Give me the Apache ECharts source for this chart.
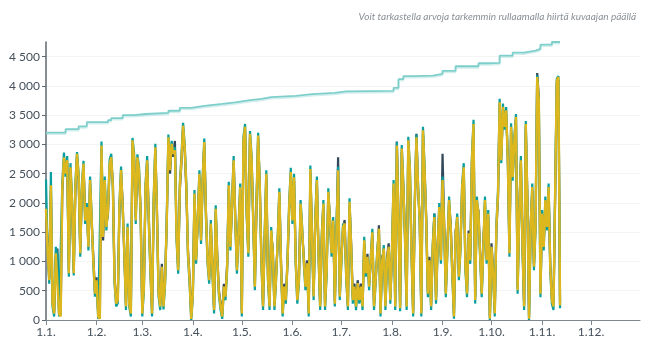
<!DOCTYPE html>
<html>
<head>
<meta charset="utf-8">
<script src="https://cdn.jsdelivr.net/npm/echarts@6/dist/echarts.min.js"></script>
<style>
html,body{margin:0;padding:0;background:#fff;}
#c{width:649px;height:347px;}
</style>
</head>
<body>
<div id="c"></div>
<script>
// Month start tick positions (day of year, 2023) and their labels
var monthStarts = [0,31,59,90,120,151,181,212,243,273,304,334];
var monthLabels = ['1.1.','1.2.','1.3.','1.4.','1.5.','1.6.','1.7.','1.8.','1.9.','1.10.','1.11.','1.12.'];
var yTicks = [0,500,1000,1500,2000,2500,3000,3500,4000,4500];
var subtitle = 'Voit tarkastella arvoja tarkemmin rullaamalla hiirtä kuvaajan päällä';

// Cumulative step series: [day of year, value]
var stepDays   = [0,12,20,25,38,40,47,54,61,75,82,89,97,108,116,124,132,138,153,163,177,184,213,216,219,226,237,243,251,265,271,278,286,293,300,303,310,315];
var stepValues = [3200,3260,3310,3380,3415,3450,3500,3520,3540,3575,3626,3660,3694,3720,3751,3780,3808,3831,3859,3882,3905,3916,3967,4115,4166,4177,4206,4257,4336,4387,4393,4518,4570,4603,4632,4705,4750,4750];

// Daily values, day 0 = 1.1.
var seriesDark = [
1850,1300,700,2200,300,140,1080,1220,130,90,
2200,2720,2560,2680,850,2560,1930,840,2200,2790,
2390,1200,2210,2620,1760,1870,1310,2330,1650,1080,
500,730,100,50,2920,1360,2330,1640,1820,2610,
2730,2330,730,330,390,1870,2500,1990,1080,280,
1530,330,160,3010,2730,1760,2730,2500,1870,160,
620,2210,2680,1760,900,160,1980,2900,1870,500,
280,960,280,730,1650,3060,2500,2960,2790,3060,
1480,900,2210,2680,3270,2900,2210,1200,730,60,
500,2100,1080,1650,2440,1420,2330,2990,1870,1080,
730,1590,900,220,1840,1080,500,280,100,620,
450,960,2240,1310,1930,2680,1760,900,1470,2210,
160,3020,3250,1870,1200,3120,2680,1760,620,1930,
3100,2330,1080,280,1360,2440,800,280,1470,1200,
280,800,1300,2140,1020,160,620,390,960,1870,
2470,1760,2380,1080,390,730,1930,1470,1080,620,
1020,160,2520,1480,450,1650,2330,1200,280,1360,
1930,280,900,2130,1760,1200,1650,330,1470,2780,
450,1080,1530,1710,800,280,1960,1310,390,620,
280,680,390,620,280,1300,860,1130,620,960,
1440,280,730,1080,1620,160,1080,1160,280,1080,
1310,390,1080,2270,280,3050,1760,250,2870,2210,
1480,280,3010,2500,1200,160,1930,3180,2210,1760,
160,3180,2500,1760,500,1080,280,1190,1820,390,
1310,1870,1080,2840,1650,500,1310,1990,1650,860,
110,1530,1700,800,1310,2210,2550,960,500,1530,
1080,2680,3300,390,1990,1870,1200,500,1310,1990,
1080,1760,60,1310,860,160,1530,2100,3680,2790,
3580,3360,3520,2790,1200,3250,2500,3020,3420,560,
1880,2680,1310,280,3300,2100,60,1650,2210,960,
1650,4220,3800,500,1760,1310,1990,1650,2210,960,
390,280,2100,4050,4100,300];

var seriesTeal = [
2400,1200,620,2530,230,60,1250,1100,60,30,
2350,2860,2450,2800,740,2680,2050,760,2330,2870,
2500,1080,2330,2720,1640,2000,1190,2450,1760,960,
400,620,20,0,3050,1480,2450,1530,1930,2740,
2840,2210,620,230,290,2000,2620,1870,1200,170,
1650,230,60,3110,2850,1640,2830,2620,1760,60,
510,2330,2800,1640,790,60,2100,3010,1760,400,
170,850,180,620,1760,3170,2620,3060,2900,2950,
1360,790,2330,2800,3370,3000,2330,1080,620,0,
400,2220,960,1760,2560,1300,2450,3100,1760,960,
620,1710,790,110,1960,960,400,170,20,510,
340,850,2360,1190,2050,2800,1640,790,1590,2330,
60,3130,3350,1760,1080,3230,2800,1640,510,2050,
3200,2210,960,170,1480,2560,680,170,1590,1080,
170,680,1420,2250,910,60,510,280,1080,2000,
2600,1640,2500,960,280,620,2050,1590,960,510,
910,60,2640,1360,340,1760,2450,1080,170,1480,
2050,170,790,2250,1640,1080,1760,230,1590,2620,
340,960,1650,1590,680,170,2080,1190,280,510,
170,570,280,510,170,1420,740,1020,510,1080,
1560,170,620,1200,1500,60,960,1280,170,960,
1190,280,1200,2390,170,3040,1640,150,2990,2330,
1360,170,3130,2620,1080,60,2050,3170,2330,1640,
60,3300,2620,1640,390,960,170,1310,1820,280,
1190,2000,960,2450,1530,390,1190,2110,1530,740,
20,1420,1820,680,1190,2330,2680,850,390,1420,
960,2800,3420,280,2110,1760,1080,390,1190,2110,
960,1880,0,1190,740,60,1650,2220,3780,2680,
3700,3250,3640,2680,1080,3360,2380,3130,3520,450,
1760,2800,1190,170,3400,1990,0,1530,2330,850,
1530,4180,3700,390,1880,1190,2110,1530,2330,850,
280,170,2220,4120,4170,200];

var seriesYellow = [
1900,1140,680,2300,280,110,1140,1160,110,60,
2270,2780,2500,2730,800,2610,1990,800,2270,2840,
2440,1140,2270,2670,1700,1930,1250,2390,1700,1020,
450,680,60,20,2980,1420,2390,1590,1870,2670,
2780,2270,680,280,340,1930,2560,1930,1140,230,
1590,280,110,3070,2780,1700,2780,2560,1820,110,
570,2270,2730,1700,850,110,2040,2950,1820,450,
230,910,230,680,1700,3120,2560,3010,2840,2900,
1420,850,2270,2730,3320,2950,2270,1140,680,20,
450,2160,1020,1700,2500,1360,2390,3040,1820,1020,
680,1650,850,170,1900,1020,450,230,60,570,
400,910,2300,1250,1990,2730,1700,850,1530,2270,
110,3070,3300,1820,1140,3180,2730,1700,570,1990,
3150,2270,1020,230,1420,2500,740,230,1530,1140,
230,740,1360,2190,970,110,570,340,1020,1930,
2530,1700,2440,1020,340,680,1990,1530,1020,570,
970,110,2580,1420,400,1700,2390,1140,230,1420,
1990,230,850,2190,1700,1140,1700,280,1530,2560,
400,1020,1590,1650,740,230,2020,1250,340,570,
230,630,340,570,230,1360,800,1080,570,1020,
1500,230,680,1140,1560,110,1020,1220,230,1020,
1250,340,1140,2330,230,2980,1700,200,2930,2270,
1420,230,3070,2560,1140,110,1990,3120,2270,1700,
110,3240,2560,1700,450,1020,230,1250,1760,340,
1250,1930,1020,2390,1590,450,1250,2050,1590,800,
60,1480,1760,740,1250,2270,2610,910,450,1480,
1020,2730,3350,340,2050,1820,1140,450,1250,2050,
1020,1820,20,1250,800,110,1590,2160,3720,2730,
3640,3300,3580,2730,1140,3300,2440,3070,3470,510,
1820,2730,1250,230,3350,2050,20,1590,2270,910,
1590,4150,3750,450,1820,1250,2050,1590,2270,910,
340,230,2160,4090,4150,250];

function pairs(vals){ return vals.map(function(v,i){ return [i, v]; }); }
function stepPairs(){ return stepDays.map(function(d,i){ return [d, stepValues[i]]; }); }
function fmtNum(v){ return String(v).replace(/\B(?=(\d{3})+(?!\d))/g, ' '); }

var chart = echarts.init(document.getElementById('c'), null, {renderer:'canvas'});
var FONT = 'Lato';
chart.setOption({
  animation:false,
  backgroundColor:'#ffffff',
  title:{
    text: subtitle,
    right: 8, top: 7,
    textStyle:{fontSize:10, fontStyle:'italic', fontWeight:'normal', color:'#8a9097', fontFamily:FONT}
  },
  grid:{left:46, right:9, top:42, bottom:27, containLabel:false},
  xAxis:{
    type:'value', min:0, max:364,
    axisLine:{show:true, lineStyle:{color:'#7d8891', width:1}},
    axisTick:{show:true, length:5, lineStyle:{color:'#7d8891'}, customValues: monthStarts},
    axisLabel:{
      customValues: monthStarts,
      color:'#44505b', fontSize:12, fontFamily:FONT, margin:6,
      formatter:function(v){ var k = monthStarts.indexOf(v); return k>=0 ? monthLabels[k] : ''; }
    },
    splitLine:{show:false}
  },
  yAxis:{
    type:'value', min:0, max:4750, interval:500,
    axisLine:{show:true, lineStyle:{color:'#5d6972', width:1.5}},
    axisTick:{show:true, length:4, lineStyle:{color:'#5d6972'}, customValues: yTicks},
    axisLabel:{customValues: yTicks, color:'#44505b', fontSize:12, fontFamily:FONT, margin:6, formatter:function(v){ return fmtNum(v); }},
    splitLine:{show:true, lineStyle:{color:'#f3f4f5', width:1}}
  },
  series:[
    {type:'line', name:'kumulatiivinen', data: stepPairs(), step:'end', symbol:'none',
     lineStyle:{color:'#7ecfcb', width:1.8, shadowColor:'rgba(126,207,203,0.35)', shadowOffsetY:1.5, shadowBlur:0}, z:2},
    {type:'line', name:'a', data: pairs(seriesDark), symbol:'none', lineStyle:{color:'#33495a', width:2.2}, z:3},
    {type:'line', name:'b', data: pairs(seriesTeal), symbol:'none', lineStyle:{color:'#0a9e9f', width:2.2}, z:4},
    {type:'line', name:'c', data: pairs(seriesYellow), symbol:'none', lineStyle:{color:'#dcb81e', width:2.4}, z:5}
  ]
});
</script>
</body>
</html>
